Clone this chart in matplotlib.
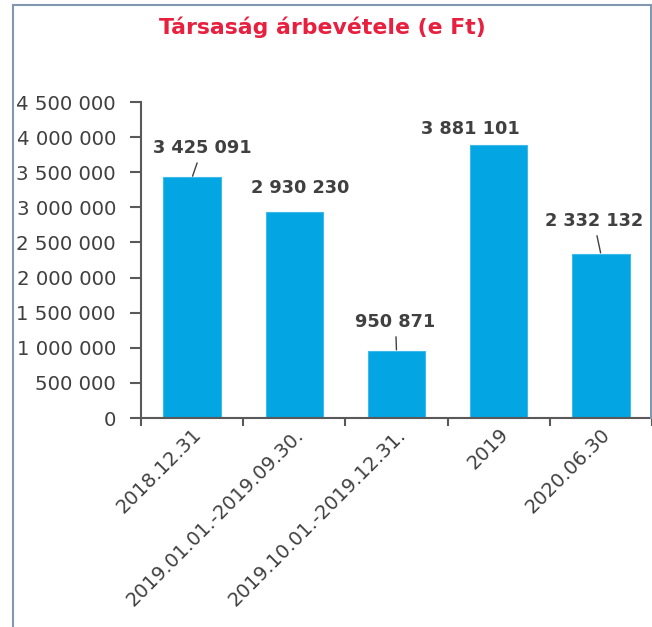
# -*- coding: utf-8 -*-
"""
Társaság árbevétele (e Ft) - oszlopdiagram
"""
import matplotlib
matplotlib.use('Agg')
import matplotlib.pyplot as plt
from matplotlib.lines import Line2D
from matplotlib.ticker import FuncFormatter, MultipleLocator

# Adatok
kategoriak = ['2018.12.31', '2019.01.01.-2019.09.30.', '2019.10.01.-2019.12.31.',
              '2019', '2020.06.30']
ertekek = [3425091, 2930230, 950871, 3881101, 2332132]
cim = 'Társaság árbevétele (e Ft)'

# Cimkek eltolasa (pixel) es vezetovonal
cimke_eltolas = [(10, 29), (6, 24), (-1, 29), (-28, 16), (-7, 33)]
vezetovonal = [True, False, True, False, True]

SZURKE = '#404040'
KEK = '#03A5E2'
PIROS = '#E8203F'
KERET = '#8497B0'

plt.rcParams['font.family'] = ['DejaVu Sans']

fig = plt.figure(figsize=(6.52, 6.27), dpi=100)
ax = fig.add_axes([141 / 652, 209 / 627, 511 / 652, 316 / 627])

x = list(range(len(kategoriak)))
ax.bar(x, ertekek, width=0.56, color=KEK, edgecolor='#3DB9EA', linewidth=0.8, zorder=2)

ax.set_xlim(-0.5, len(kategoriak) - 0.5)
ax.set_ylim(0, 4500000)
ax.yaxis.set_major_locator(MultipleLocator(500000))
ax.yaxis.set_major_formatter(FuncFormatter(lambda v, p: f"{int(v):,}".replace(',', ' ')))

# Feliratok a kategoriak kozepen, jelolok a hatarokon
ax.set_xticks(x)
ax.set_xticklabels(kategoriak, rotation=45, ha='right', va='top', rotation_mode='anchor')
ax.set_xticks([i - 0.5 for i in x] + [len(x) - 0.5], minor=True)
ax.tick_params(axis='x', which='major', length=0, pad=5, labelsize=14, labelcolor=SZURKE)
ax.tick_params(axis='x', which='minor', length=6, width=1.5, color='#595959', direction='out')
ax.tick_params(axis='y', length=8, width=1.5, color='#595959', pad=10,
               labelsize=14.2, labelcolor=SZURKE)

for s in ['top', 'right']:
    ax.spines[s].set_visible(False)
for s in ['left', 'bottom']:
    ax.spines[s].set_color('#595959')
    ax.spines[s].set_linewidth(1.5)

# Ertekcimkek
for i, v in enumerate(ertekek):
    szoveg = f"{v:,}".replace(',', ' ')
    nyil = dict(arrowstyle='-', color=SZURKE, lw=1, shrinkA=2, shrinkB=1) if vezetovonal[i] else None
    ax.annotate(szoveg, xy=(i, v), xytext=cimke_eltolas[i], textcoords='offset pixels',
                ha='center', va='center', fontsize=12.8, fontweight='bold', color=SZURKE,
                arrowprops=nyil, annotation_clip=False)

# Cim
fig.text(0.494, 1 - 27 / 627, cim, ha='center', va='center', fontsize=15.8,
         fontweight='bold', color=PIROS)

# Keret
bal = 13 / 652
jobb = 651 / 652
fent = 1 - 5 / 627
fig.add_artist(Line2D([bal, bal], [0, fent], color=KERET, lw=1.5))
fig.add_artist(Line2D([bal, jobb], [fent, fent], color=KERET, lw=1.5))
fig.add_artist(Line2D([jobb, jobb], [209 / 627, fent], color=KERET, lw=1.5))

fig.savefig('out.png', dpi=100)
